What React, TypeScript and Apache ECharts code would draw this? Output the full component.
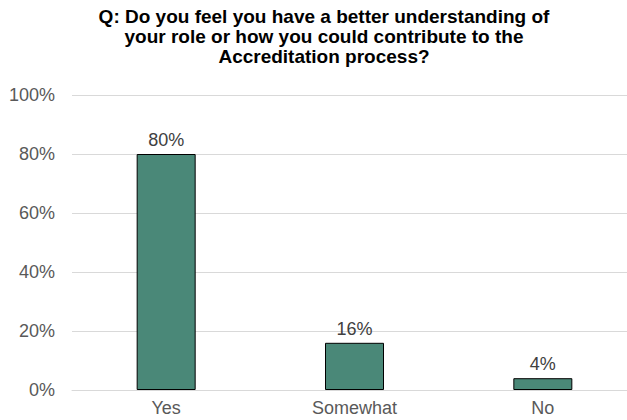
import React, { useEffect, useRef } from "react";
import * as echarts from "echarts";

const titleLines = [
  "Q: Do you feel you have a better understanding of",
  "your role or how you could contribute to the",
  "Accreditation process?",
];
const categories = ["Yes", "Somewhat", "No"];
const values = [80, 16, 4];
const yTicks = { min: 0, max: 100, interval: 20 };

const FONT = "'Liberation Sans', Arial, sans-serif";

export default function App() {
  const ref = useRef<HTMLDivElement>(null);
  useEffect(() => {
    if (!ref.current) return;
    const chart = echarts.init(ref.current, undefined, { renderer: "svg" });
    chart.setOption({
      animation: false,
      graphic: [
        {
          type: "text",
          x: 324,
          y: 6,
          style: {
            text: titleLines.join("\n"),
            font: `bold 19px ${FONT}`,
            fill: "#000000",
            align: "center",
            lineHeight: 20,
          },
        },
      ],
      grid: { left: 72, right: 3, top: 95, bottom: 30, containLabel: false },
      xAxis: {
        type: "category",
        data: categories,
        axisLine: { show: true, lineStyle: { color: "#d9d9d9", width: 1 } },
        axisTick: { show: false },
        axisLabel: {
          color: "#595959",
          fontSize: 18,
          fontFamily: FONT,
          margin: 9,
        },
      },
      yAxis: {
        type: "value",
        min: yTicks.min,
        max: yTicks.max,
        interval: yTicks.interval,
        axisLine: { show: false },
        axisTick: { show: false },
        splitLine: { lineStyle: { color: "#d9d9d9", width: 1 } },
        axisLabel: {
          formatter: "{value}%",
          color: "#595959",
          fontSize: 18,
          fontFamily: FONT,
          margin: 17,
        },
      },
      series: [
        {
          type: "bar",
          data: values,
          barWidth: 59,
          itemStyle: { color: "#4a8878", borderColor: "#000000", borderWidth: 1 },
          label: {
            show: true,
            position: "top",
            distance: 5,
            formatter: "{c}%",
            color: "#404040",
            fontSize: 18,
            fontFamily: FONT,
          },
        },
      ],
    });
    return () => chart.dispose();
  }, []);
  return (
    <div style={{ position: "fixed", left: 0, top: 0, width: 627, height: 420, overflow: "hidden", background: "#fff" }}>
      <div ref={ref} style={{ width: 640, height: 420 }} />
    </div>
  );
}
